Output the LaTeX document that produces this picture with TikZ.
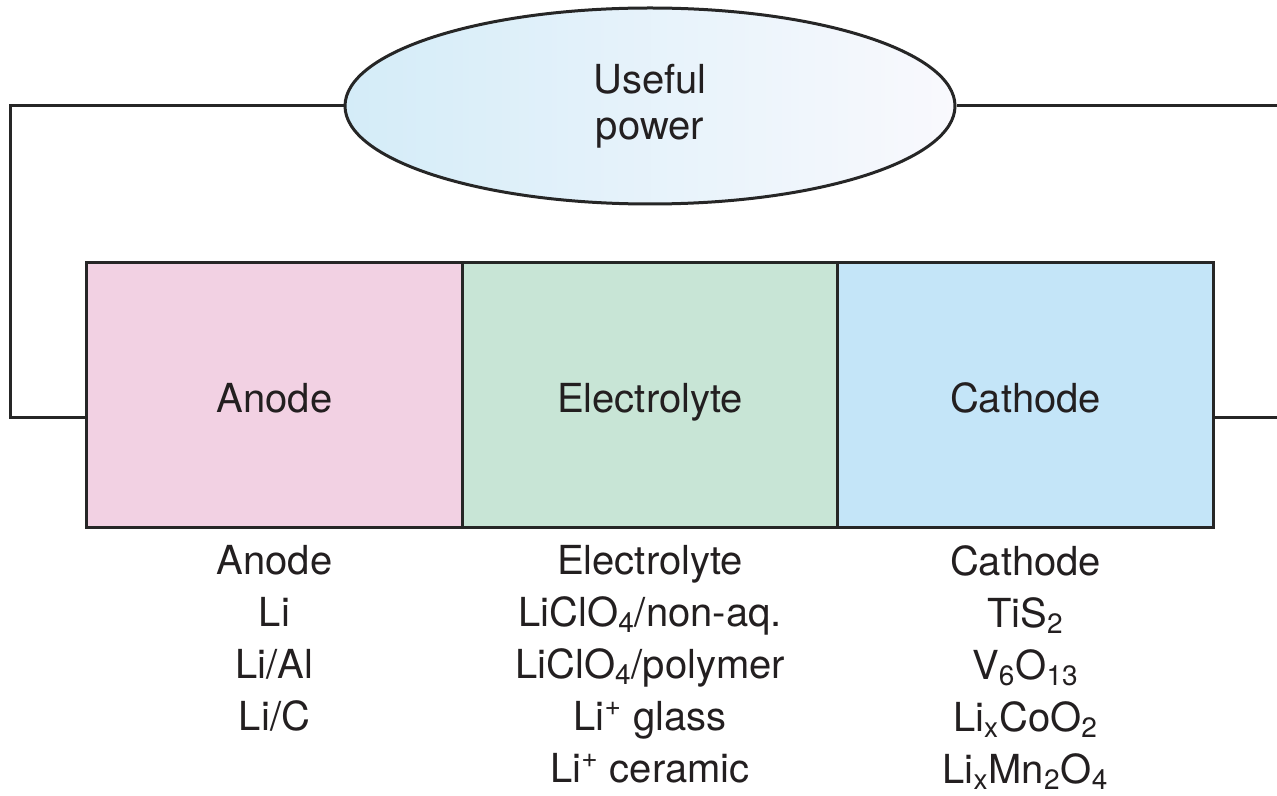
\documentclass[tikz,border=0pt]{standalone}
\usepackage{fontspec}
\setmainfont{TeX Gyre Heros}
\usetikzlibrary{shapes.geometric}
\definecolor{anodec}{HTML}{F2D1E3}
\definecolor{electc}{HTML}{C8E5D6}
\definecolor{cathc}{HTML}{C4E5F8}
\definecolor{linec}{HTML}{262626}
\definecolor{txtc}{HTML}{231F20}
\definecolor{ellL}{HTML}{D4ECF8}
\definecolor{ellR}{HTML}{F9F9FD}
\newcommand{\sbs}[1]{\textsubscript{#1}}
\newcommand{\sps}[1]{\textsuperscript{#1}}
\begin{document}
\begin{tikzpicture}[x=0.5pt,y=-0.5pt,
  wire/.style={draw=linec,line width=1.5pt},
  cell/.style={draw=linec,line width=1.5pt,minimum width=375.5*0.5pt,minimum height=264*0.5pt,inner sep=0pt,text height=17.4pt,text depth=0pt,font=\fontsize{20}{26}\selectfont,text=txtc},
  lbl/.style={align=center,anchor=north,font=\fontsize{20}{26}\selectfont,text=txtc,inner sep=0pt}]
\useasboundingbox (0,0) rectangle (1277,796);
\node[ellipse,draw=linec,line width=1.5pt,left color=ellL,right color=ellR,minimum width=610*0.5pt,minimum height=196*0.5pt,inner sep=0pt,align=center,font=\fontsize{20}{23}\selectfont,text=txtc] (load) at (650,106) {Useful\\power};
\node[cell,fill=anodec] (anode) at (274.5,395) {Anode};
\node[cell,fill=electc] (elec) at (650,395) {Electrolyte};
\node[cell,fill=cathc] (cath) at (1025.5,395) {Cathode};
\coordinate (lt) at (10,106);
\coordinate (lb) at (10,417);
\coordinate (rt) at (1277,106);
\coordinate (rb) at (1277,417);
\draw[wire] (load.west) -- (lt) -- (lb) -- (anode.west |- lb);
\draw[wire] (load.east) -- (rt);
\draw[wire] (cath.east |- rb) -- (rb);
\node[lbl] (al) at (274.5,545) {Anode\\Li\\Li/Al\\Li/C};
\node[lbl] (el) at (650,545) {Electrolyte\\LiClO\sbs{4}/non-aq.\\LiClO\sbs{4}/polymer\\Li\sps{+} glass\\Li\sps{+} ceramic};
\node[lbl] (cl) at (1025.5,545) {Cathode\\TiS\sbs{2}\\V\sbs{6}O\sbs{13}\\Li\sbs{x}CoO\sbs{2}\\Li\sbs{x}Mn\sbs{2}O\sbs{4}};
\end{tikzpicture}
\end{document}
